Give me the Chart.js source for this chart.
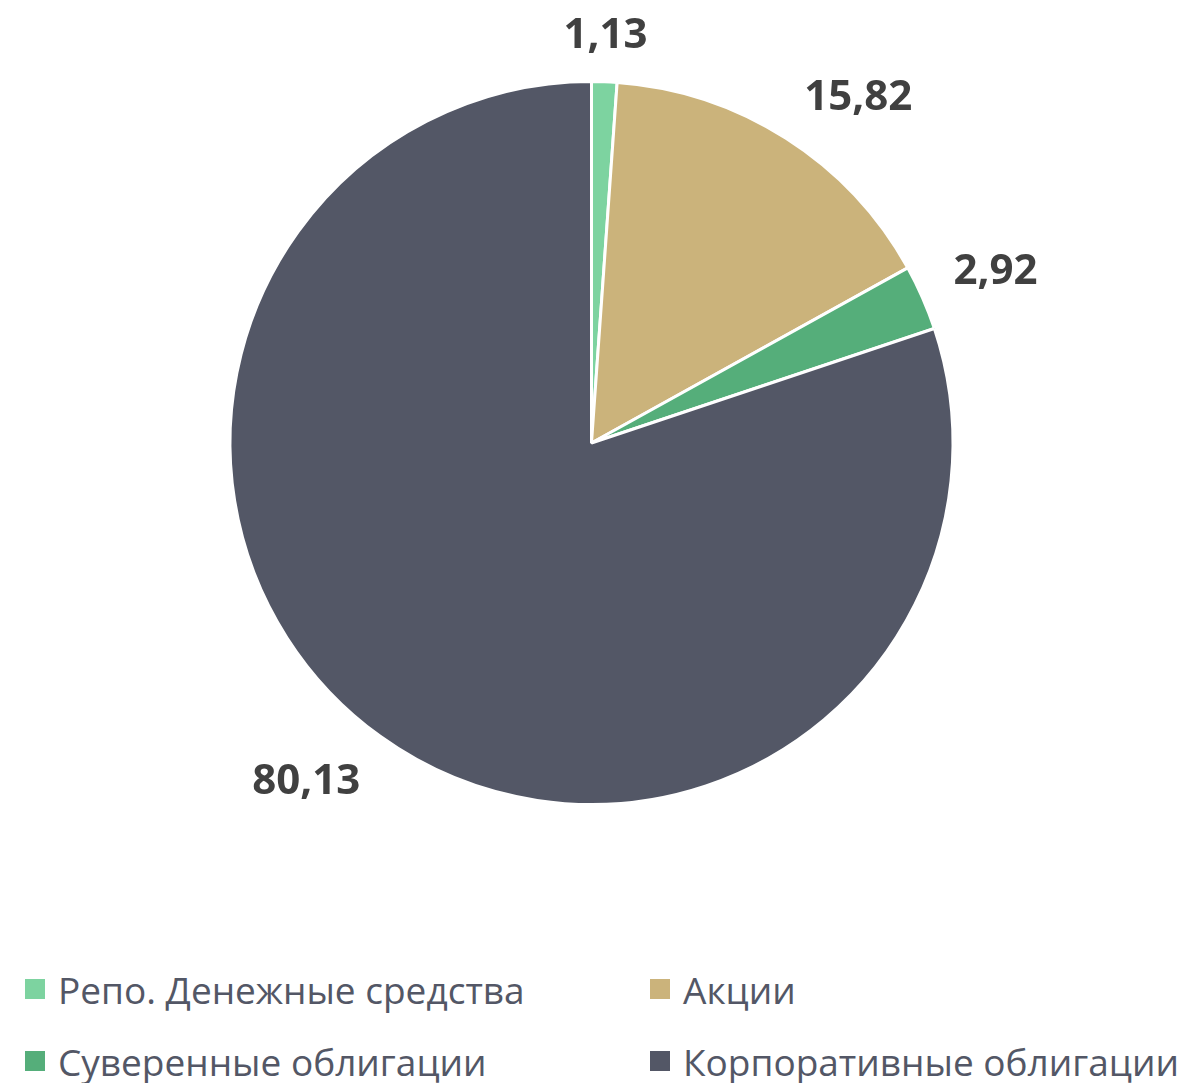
<!DOCTYPE html>
<html lang="ru">
<head>
<meta charset="utf-8">
<script src="https://cdn.jsdelivr.net/npm/chart.js@4"></script>
<style>
    body { margin: 0; background: #fff; font-family: "Open Sans", sans-serif; }
    #wrap { position: relative; width: 1183px; height: 1083px; }
    #grafico { position: absolute; left: 0; top: 0; }
    #leyenda {
        position: absolute; left: 25px; top: 953px; width: 1158px;
        display: grid; grid-template-columns: 625px 533px; grid-auto-rows: 72px;
    }
    .item { display: flex; align-items: center; color: #535766; font-size: 37px; white-space: nowrap; }
    .cuadro { width: 20px; height: 20px; margin-right: 13px; flex: none; }
</style>
</head>
<body>
<div id="wrap">
    <canvas id="grafico" width="1183" height="940"></canvas>
    <div id="leyenda"></div>
</div>
<script>
// Datos de la estructura del portafolio (%)
const categorias = ['Репо. Денежные средства', 'Акции', 'Суверенные облигации', 'Корпоративные облигации'];
const valores = [1.13, 15.82, 2.92, 80.13];
const colores = ['#7dd3a0', '#cbb37b', '#55ae7a', '#535766'];

// Etiquetas de valor fuera del sector (estilo Excel "extremo externo"):
// la esquina más cercana del texto se apoya sobre el radio medio del sector
const etiquetasFuera = {
    id: 'etiquetasFuera',
    afterDatasetsDraw(chart) {
        const ctx = chart.ctx;
        const meta = chart.getDatasetMeta(0);
        const altoCifra = 30;
        ctx.save();
        ctx.font = 'bold 42px "Open Sans"';
        ctx.fillStyle = '#404040';
        ctx.textBaseline = 'alphabetic';
        meta.data.forEach((arc, i) => {
            const texto = valores[i].toFixed(2).replace('.', ',');
            const medio = (arc.startAngle + arc.endAngle) / 2;
            const dx = Math.cos(medio), dy = Math.sin(medio);
            const dist = arc.outerRadius + 34;
            const px = arc.x + dx * dist, py = arc.y + dy * dist;
            ctx.textAlign = Math.abs(dx) < 0.2 ? 'center' : (dx > 0 ? 'left' : 'right');
            const base = dy < 0 ? py : py + altoCifra;
            ctx.fillText(texto, px, base);
        });
        ctx.restore();
    }
};

const ctx = document.getElementById('grafico').getContext('2d');
const grafico = new Chart(ctx, {
    type: 'pie',
    data: {
        labels: categorias,
        datasets: [{
            data: valores,
            backgroundColor: colores,
            borderColor: '#ffffff',
            borderWidth: 3
        }]
    },
    options: {
        responsive: false,
        animation: false,
        layout: { padding: { top: 80, bottom: 134 } },
        plugins: { legend: { display: false }, tooltip: { enabled: false } }
    },
    plugins: [etiquetasFuera]
});

// Leyenda en dos columnas
const leyenda = document.getElementById('leyenda');
categorias.forEach((nombre, i) => {
    const item = document.createElement('div');
    item.className = 'item';
    item.innerHTML = `<span class="cuadro" style="background:${colores[i]}"></span><span>${nombre}</span>`;
    leyenda.appendChild(item);
});
</script>
</body>
</html>
